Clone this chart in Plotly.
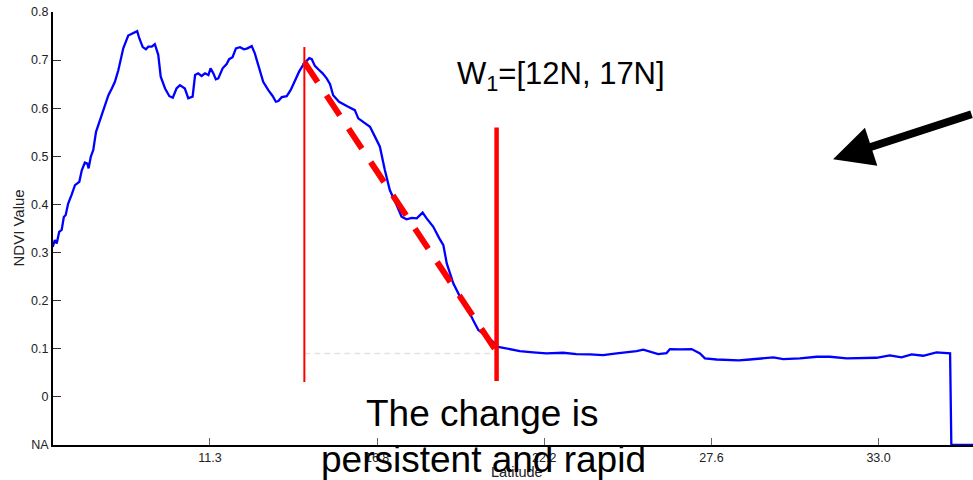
import plotly.graph_objects as go

# ---- data ----
latitude = [6.27, 6.34, 6.40, 6.48, 6.56, 6.63, 6.69, 6.77, 6.88, 6.99, 7.13, 7.21, 7.31, 7.39, 7.43,
            7.50, 7.58, 7.67, 7.76, 7.85, 7.96, 8.07, 8.18, 8.28, 8.39, 8.44, 8.55, 8.71, 8.87, 9.00,
            9.07, 9.18, 9.28, 9.36, 9.47, 9.57, 9.68, 9.76, 9.90, 10.04, 10.15, 10.27, 10.38, 10.54,
            10.65, 10.79, 10.87, 10.97, 11.08, 11.19, 11.30, 11.37, 11.46, 11.54, 11.62, 11.76, 11.89,
            11.97, 12.08, 12.19, 12.32, 12.45, 12.56, 12.70, 12.80, 12.97, 13.07, 13.23, 13.38, 13.48,
            13.56, 13.67, 13.83, 13.96, 14.10, 14.23, 14.39, 14.47, 14.56, 14.64, 14.74, 14.85, 14.99,
            15.12, 15.23, 15.33, 15.52, 15.77, 16.03, 16.14, 16.36, 16.52, 16.68, 16.84, 17.00, 17.16,
            17.38, 17.54, 17.70, 17.87, 18.03, 18.22, 18.35, 18.56, 18.76, 18.89, 19.00, 19.21, 19.43,
            19.64, 19.85, 20.02, 20.23, 20.50, 20.66, 20.94, 21.36, 21.79, 22.22, 22.76, 23.19, 23.62,
            24.05, 24.49, 24.81, 25.13, 25.35, 25.56, 25.83, 26.10, 26.21, 26.53, 26.91, 27.18, 27.34,
            27.72, 28.04, 28.43, 28.79, 29.22, 29.55, 29.87, 30.41, 30.95, 31.38, 31.92, 32.45, 32.88,
            33.31, 33.69, 34.02, 34.39, 34.82, 35.26, 35.30, 36.5]
ndvi = [0.312, 0.326, 0.319, 0.343, 0.347, 0.374, 0.378, 0.402, 0.420, 0.440, 0.447, 0.471, 0.487, 0.485, 0.475,
        0.499, 0.513, 0.551, 0.568, 0.584, 0.603, 0.627, 0.641, 0.655, 0.679, 0.693, 0.7245, 0.751, 0.756, 0.760,
        0.745, 0.727, 0.7225, 0.728, 0.728, 0.733, 0.711, 0.6655, 0.641, 0.625, 0.622, 0.641, 0.648, 0.641,
        0.6205, 0.624, 0.669, 0.6725, 0.667, 0.6725, 0.669, 0.683, 0.6725, 0.660, 0.662, 0.683, 0.692,
        0.702, 0.706, 0.7245, 0.727, 0.7225, 0.7245, 0.729, 0.714, 0.679, 0.655, 0.638, 0.625, 0.6135,
        0.615, 0.623, 0.625, 0.638, 0.659, 0.676, 0.693, 0.699, 0.704, 0.702, 0.688, 0.681, 0.6725,
        0.662, 0.650, 0.627, 0.6135, 0.6045, 0.596, 0.579, 0.5685, 0.5615, 0.541, 0.520, 0.4715, 0.430,
        0.399, 0.3745, 0.369, 0.372, 0.371, 0.383, 0.371, 0.354, 0.3295, 0.3155, 0.2775, 0.236, 0.208,
        0.1875, 0.160, 0.139, 0.1285, 0.1145, 0.104, 0.1005, 0.0952, 0.0925, 0.0904, 0.0917, 0.089, 0.0883,
        0.087, 0.0904, 0.0925, 0.0952, 0.098, 0.094, 0.089, 0.091, 0.0994, 0.0988, 0.0994, 0.0904, 0.080,
        0.0777, 0.0764, 0.0760, 0.0777, 0.080, 0.082, 0.0786, 0.080, 0.0834, 0.0834, 0.080, 0.0807, 0.0813,
        0.0862, 0.082, 0.0883, 0.0855, 0.0925, 0.0904, -0.1, -0.1]

x_tickvals = [11.35, 16.75, 22.15, 27.55, 32.95]
x_ticktext = ["11.3", "16.8", "22.2", "27.6", "33.0"]
y_tickvals = [-0.1, 0, 0.1, 0.2, 0.3, 0.4, 0.5, 0.6, 0.7, 0.8]
y_ticktext = ["NA", "0", "0.1", "0.2", "0.3", "0.4", "0.5", "0.6", "0.7", "0.8"]

window_start_x = [14.40, 14.40]
window_start_y = [0.727, 0.031]
window_end_x = [20.61, 20.61]
window_end_y = [0.56, 0.033]
trend_x = [14.40, 20.61]
trend_y = [0.696, 0.094]
base_x = [14.40, 20.61]
base_y = [0.090, 0.090]
arrow_tip = (31.48, 0.494)

FONT = "Arial, Liberation Sans, Helvetica, sans-serif"

fig = go.Figure()
fig.add_trace(go.Scatter(x=latitude, y=ndvi, mode="lines",
                         line=dict(color="#0000ff", width=2.3), showlegend=False, hoverinfo="skip"))
fig.add_trace(go.Scatter(x=base_x, y=base_y, mode="lines",
                         line=dict(color="#e6e2da", width=1.5, dash="6px,4px"), showlegend=False))
fig.add_trace(go.Scatter(x=window_start_x, y=window_start_y, mode="lines",
                         line=dict(color="#ff0000", width=2), showlegend=False))
fig.add_trace(go.Scatter(x=trend_x, y=trend_y, mode="lines",
                         line=dict(color="#ff0000", width=6, dash="24px,16px"), showlegend=False))
fig.add_trace(go.Scatter(x=window_end_x, y=window_end_y, mode="lines",
                         line=dict(color="#ff0000", width=4.5), showlegend=False))

fig.update_layout(
    width=973, height=480,
    margin=dict(l=53, r=0, t=12, b=35),
    paper_bgcolor="white", plot_bgcolor="white",
    font=dict(family=FONT, color="#222"),
    showlegend=False,
    xaxis=dict(range=[6.28, 36.0], tickvals=x_tickvals, ticktext=x_ticktext,
               ticks="inside", ticklen=7, tickcolor="#666", tickwidth=1,
               showline=True, linecolor="black", linewidth=2, showgrid=False, zeroline=False,
               tickfont=dict(size=12.5, color="#222"), layer="below traces"),
    xaxis2=dict(range=[6.28, 36.0], overlaying="x", side="top", anchor="y",
                tickvals=x_tickvals, showticklabels=False, ticks="inside", ticklen=7,
                tickcolor="#888", showline=True, linecolor="black", linewidth=1,
                showgrid=False, zeroline=False),
    yaxis=dict(range=[-0.1, 0.8], tickvals=y_tickvals, ticktext=y_ticktext,
               ticks="inside", ticklen=8, tickcolor="#333", tickwidth=1,
               showline=True, linecolor="black", linewidth=2, showgrid=False, zeroline=False,
               tickfont=dict(size=12.5, color="#222")),
)

annotations = [
    dict(text="NDVI Value", xref="paper", yref="paper", x=-0.038, y=0.5, textangle=-90,
         showarrow=False, xanchor="center", yanchor="middle", font=dict(size=15, color="#222")),
    dict(text="Latitude", xref="paper", yref="paper", x=0.504, y=-0.062,
         showarrow=False, xanchor="center", yanchor="middle", font=dict(size=14.5, color="#222")),
    dict(text="W<sub>1</sub>=[12N, 17N]", xref="paper", yref="paper", x=0.552, y=0.852,
         showarrow=False, xanchor="center", yanchor="middle", font=dict(size=31, color="black")),
    dict(text="The change is", xref="paper", yref="paper", x=0.4663, y=0.0716,
         showarrow=False, xanchor="center", yanchor="middle", font=dict(size=37, color="black")),
    dict(text="persistent and rapid", xref="paper", yref="paper", x=0.468, y=-0.0346,
         showarrow=False, xanchor="center", yanchor="middle", font=dict(size=37, color="black")),
    dict(text="", x=arrow_tip[0], y=arrow_tip[1], xref="x", yref="y",
         showarrow=True, arrowhead=2, arrowwidth=8, arrowsize=1.0, arrowcolor="black",
         ax=177, ay=-45.5, standoff=0),
]
fig.update_layout(annotations=annotations)

fig.write_html("out.html")
